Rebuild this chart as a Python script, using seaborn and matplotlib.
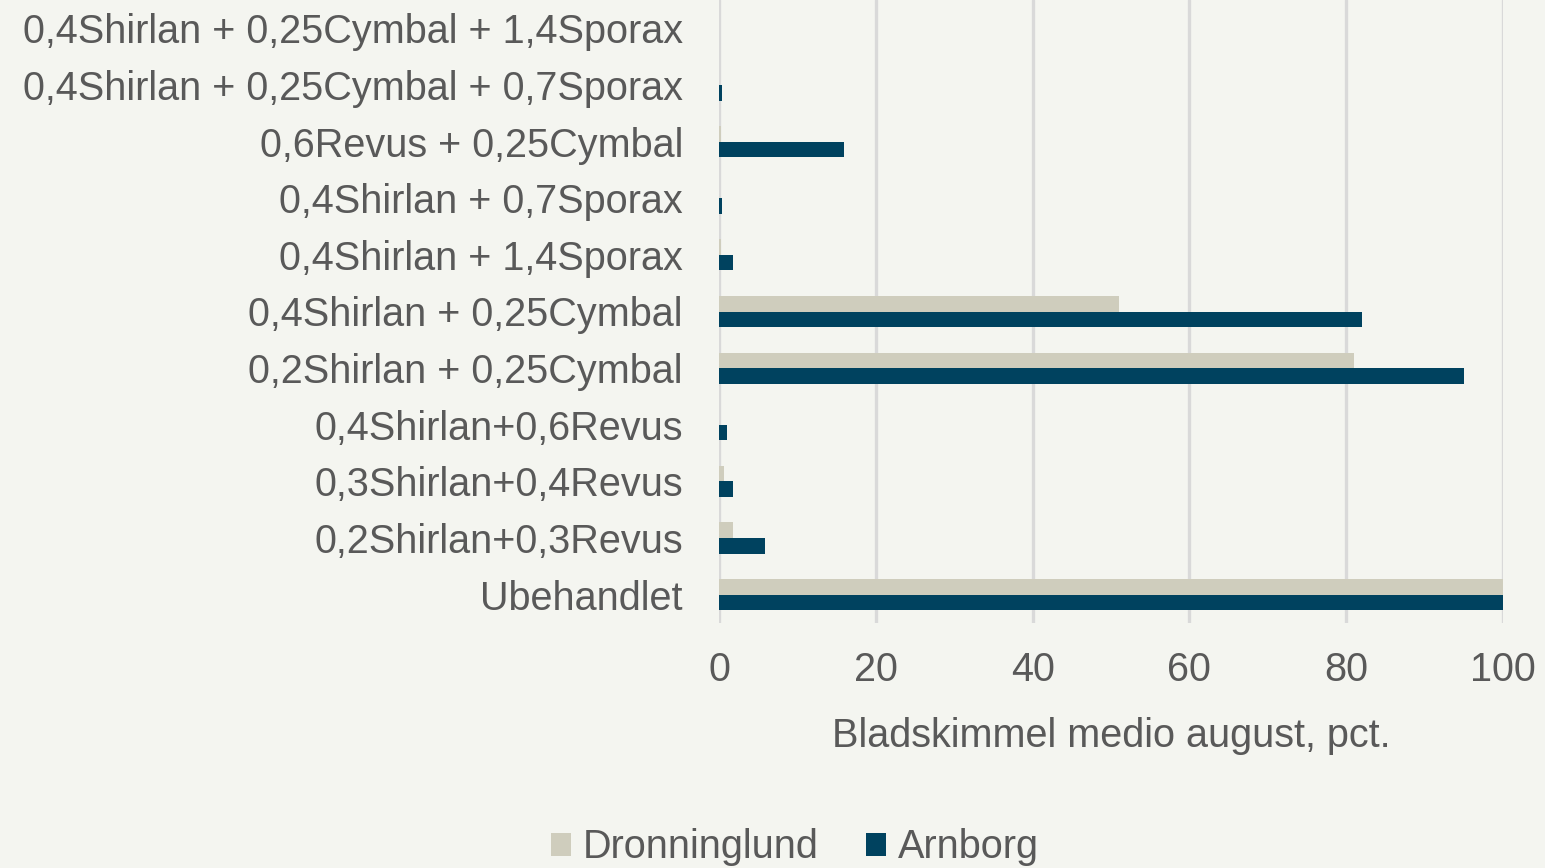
import pandas as pd
import matplotlib.pyplot as plt
import seaborn as sns

# Data
behandlinger = [
    "0,4Shirlan + 0,25Cymbal + 1,4Sporax",
    "0,4Shirlan + 0,25Cymbal + 0,7Sporax",
    "0,6Revus + 0,25Cymbal",
    "0,4Shirlan + 0,7Sporax",
    "0,4Shirlan + 1,4Sporax",
    "0,4Shirlan + 0,25Cymbal",
    "0,2Shirlan + 0,25Cymbal",
    "0,4Shirlan+0,6Revus",
    "0,3Shirlan+0,4Revus",
    "0,2Shirlan+0,3Revus",
    "Ubehandlet",
]
dronninglund = [0, 0, 0.3, 0, 0.3, 51, 81, 0, 0.7, 1.8, 100]
arnborg = [0, 0.4, 16, 0.4, 1.8, 82, 95, 1.0, 1.8, 5.9, 100]
serier = ["Dronninglund", "Arnborg"]
farver = ["#CFCDBD", "#00425F"]

BG = "#F4F5F0"
TXT = "#595959"
FS = 28.5


def lav_data():
    """Long-form tabel til seaborn."""
    rows = []
    for navn, vals in zip(serier, [dronninglund, arnborg]):
        for b, v in zip(behandlinger, vals):
            rows.append({"Behandling": b, "Serie": navn, "Vaerdi": v})
    return pd.DataFrame(rows)


def plot(df):
    sns.set_style("white")
    plt.rcParams["font.family"] = ["Liberation Sans", "DejaVu Sans"]

    fig = plt.figure(figsize=(15.45, 8.68), dpi=100, facecolor=BG)
    ax = fig.add_axes([719 / 1545, 1 - 623 / 868, 784 / 1545, 623 / 868])
    ax.set_facecolor(BG)

    sns.barplot(data=df, x="Vaerdi", y="Behandling", hue="Serie",
                order=behandlinger, hue_order=serier, palette=farver,
                orient="h", width=0.55, gap=0, edgecolor="none",
                saturation=1, ax=ax, zorder=3)

    ax.set_xlim(0, 100)
    ax.set_ylim(len(behandlinger) - 0.5, -0.5)
    ax.set_xticks(range(0, 101, 20))
    ax.grid(axis="x", color="#D9D9D9", linewidth=2.4, zorder=0)
    ax.grid(axis="y", visible=False)
    for s in ax.spines.values():
        s.set_visible(False)

    ax.tick_params(axis="both", length=0, labelsize=FS, colors=TXT)
    ax.tick_params(axis="y", pad=26)
    ax.tick_params(axis="x", pad=20)
    ax.set_ylabel("")
    ax.set_xlabel("Bladskimmel medio august, pct.", fontsize=FS,
                  color=TXT, labelpad=20)

    ax.legend(loc="center", bbox_to_anchor=(0.097, -0.36),
              ncol=2, frameon=False, fontsize=FS, labelcolor=TXT,
              handlelength=0.5, handleheight=0.5, handletextpad=0.3,
              columnspacing=1.2)

    fig.savefig("out.png", dpi=100, facecolor=BG)


def main():
    df = lav_data()
    plot(df)


if __name__ == "__main__":
    main()
